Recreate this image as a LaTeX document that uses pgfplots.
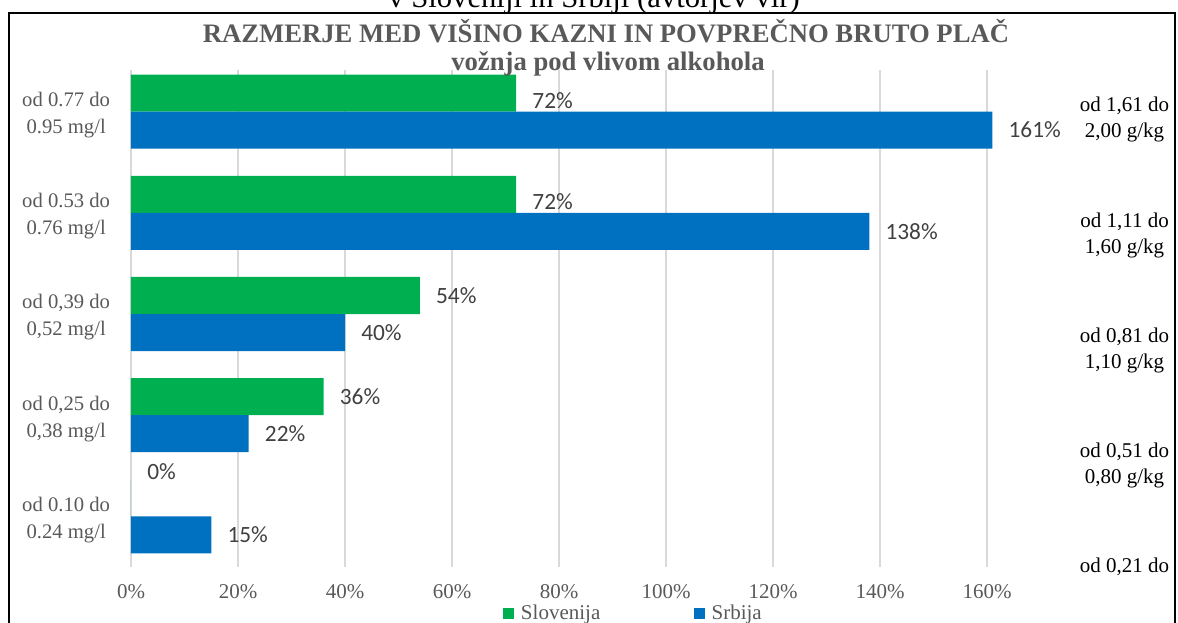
\documentclass[border=0pt]{standalone}
\usepackage{fontspec}
\setmainfont{Liberation Serif}
\newfontfamily\calibri{Carlito}
\usepackage{pgfplots}
\pgfplotsset{compat=1.18}
\usepackage{pgfplotstable}
\definecolor{slo}{HTML}{00B050}
\definecolor{srb}{HTML}{0070C0}
\definecolor{txtgray}{HTML}{595959}
\definecolor{lblgray}{HTML}{404040}
\definecolor{gridgray}{HTML}{D9D9D9}

\pgfplotstableread{
y x dy
4 72 -6
3 72 -5.6
2 54 0
1 36 0
0 0 20
}\slotab
\pgfplotstableread{
y x dy
4 161 0
3 138 0
2 40 0
1 22 0
0 15 0
}\srbtab

\begin{document}
\begin{tikzpicture}
\useasboundingbox (0,0) rectangle (883.5pt,466.5pt);
\begin{axis}[
  at={(98.25pt,41.25pt)}, anchor=south west,
  scale only axis, width=662.06pt, height=373.05pt,
  xmin=0, xmax=165, ymin=-0.5, ymax=4.415,
  xbar, bar width=0.366,
  axis line style={draw=none},
  tick style={draw=none},
  xmajorgrids, grid style={gridgray, line width=0.9pt},
  xtick={0,20,...,160},
  xticklabel={\pgfmathprintnumber{\tick}\%},
  /pgf/number format/assume math mode=true,
  xticklabel style={font=\fontsize{15.75}{18}\selectfont, text=txtgray, anchor=base, yshift=-23.8pt},
  ytick={0,1,2,3,4},
  yticklabels={{od 0.10 do\\0.24 mg/l},{od 0,25 do\\0,38 mg/l},{od 0,39 do\\0,52 mg/l},{od 0.53 do\\0.76 mg/l},{od 0.77 do\\0.95 mg/l}},
  yticklabel style={align=center, font=\fontsize{15.5}{20.25}\selectfont, text=txtgray, anchor=east, inner sep=0pt, xshift=-11.25pt, yshift=-2.6pt},
  point meta=x,
  nodes near coords={\pgfmathprintnumber{\pgfplotspointmeta}\%},
  visualization depends on={\thisrow{dy} \as \dy},
  nodes near coords style={font=\calibri\fontsize{17.5}{20}\selectfont, text=lblgray, anchor=west, inner sep=0pt, xshift=12pt, yshift=\dy pt},
  clip=false,
  legend image code/.code={\fill[#1] (0pt,-4.125pt) rectangle (8.25pt,4.125pt);},
  legend style={at={(axis description cs:0.4214,-0.0925)}, anchor=west, draw=none, fill=none,
    inner sep=0pt, outer sep=0pt, legend columns=2,
    nodes={inner sep=0pt, font=\fontsize{15.75}{18}\selectfont, text=txtgray},
    /tikz/every odd column/.append style={column sep=5.25pt},
    /tikz/every even column/.append style={column sep=70pt}},
]
\addplot[fill=slo, draw=none, bar shift=0.183] table[x=x, y=y] {\slotab};
\addlegendentry{Slovenija}
\addplot[fill=srb, draw=none, bar shift=-0.183] table[x=x, y=y] {\srbtab};
\addlegendentry{Srbija}
\end{axis}
% frame
\draw[line width=1.3pt] (6.75pt,-20pt) -- (6.75pt,456.98pt) -- (881.25pt,456.98pt) -- (881.25pt,-20pt);
% titles
\node[anchor=base, font=\fontsize{23}{27}\selectfont] at (445.5pt,460.5pt) {v Sloveniji in Srbiji (avtorjev vir)};
\node[anchor=base, font=\bfseries\fontsize{20}{24}\selectfont, text=txtgray] at (454.5pt,434.25pt) {RAZMERJE MED VIŠINO KAZNI IN POVPREČNO BRUTO PLAČ};
\node[anchor=base, font=\bfseries\fontsize{20}{24}\selectfont, text=txtgray] at (456pt,413.6pt) {vožnja pod vlivom alkohola};
% right-hand category labels
\begin{scope}[every node/.style={align=center, font=\fontsize{15.75}{19.5}\selectfont, inner sep=0pt}]
\node at (843.4pt,376.9pt) {od 1,61 do\\2,00 g/kg};
\node at (843.4pt,290.25pt) {od 1,11 do\\1,60 g/kg};
\node at (843.4pt,204pt) {od 0,81 do\\1,10 g/kg};
\node at (843.4pt,117.75pt) {od 0,51 do\\0,80 g/kg};
\node at (843.4pt,41.25pt) {od 0,21 do};
\end{scope}
\end{tikzpicture}
\end{document}
